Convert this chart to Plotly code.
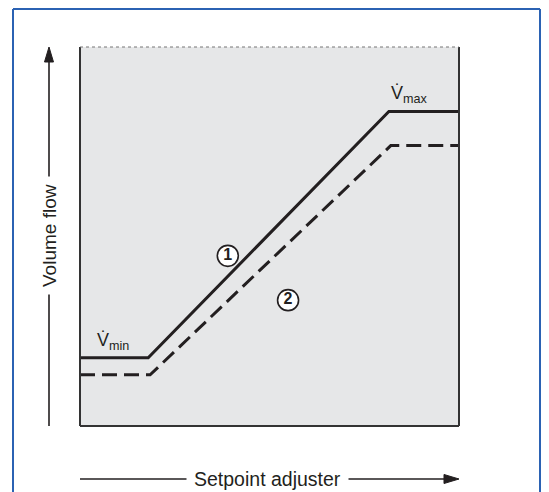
import plotly.graph_objects as go

# Data (setpoint in % of range, volume flow in % of range)
setpoint_1 = [0, 18, 81.5, 100]
flow_1 = [18, 18, 83, 83]
setpoint_2 = [0, 18.5, 82, 100]
flow_2 = [13.5, 13.5, 74, 74]

x_title = "Setpoint adjuster"
y_title = "Volume flow"
vmin_label = "V\u0307<sub>min</sub>"
vmax_label = "V\u0307<sub>max</sub>"
curve_labels = ["1", "2"]
curve_label_x = [39.0, 54.9]
curve_label_y = [44.9, 33.2]

OFF = 8  # page body margin
W, H = 549 - OFF, 492 - OFF
L, T = 80 - OFF, 47 - OFF
R = W - (459 - OFF)
B = H - (426 - OFF)
pw = W - L - R
ph = H - T - B

def px(x):
    return (x - OFF - L) / pw

def py(y):
    return (H - B - (y - OFF)) / ph

FONT = "Liberation Sans, Arial, sans-serif"
INK = "#231f20"

fig = go.Figure()
fig.add_trace(go.Scatter(x=setpoint_1, y=flow_1, mode="lines",
                         line=dict(color=INK, width=3), hoverinfo="skip"))
fig.add_trace(go.Scatter(x=setpoint_2, y=flow_2, mode="lines",
                         line=dict(color=INK, width=3, dash="15px,7px"), hoverinfo="skip"))
fig.add_trace(go.Scatter(x=curve_label_x, y=curve_label_y, mode="markers+text",
                         text=["<b>%s</b>" % t for t in curve_labels],
                         textposition="middle center",
                         textfont=dict(family=FONT, size=16, color=INK),
                         marker=dict(size=21, color="white", line=dict(color=INK, width=1.6)),
                         hoverinfo="skip"))

shapes = []
# plot frame: left, right, bottom solid; top dotted
for (x0, x1, y0, y1) in [(0, 0, 0, 1), (1, 1, 0, 1), (0, 1, 0, 0)]:
    shapes.append(dict(type="line", xref="paper", yref="paper", x0=x0, x1=x1, y0=y0, y1=y1,
                       line=dict(color="#333333", width=2)))
shapes.append(dict(type="line", xref="paper", yref="paper", x0=0, x1=1, y0=1, y1=1,
                   line=dict(color="#777777", width=1.2, dash="dot")))
# outer blue frame
bl, br, bt, bb = px(13), px(540), py(9), py(530)
for (x0, x1, y0, y1) in [(bl, bl, bb, bt), (br, br, bb, bt), (bl, br, bt, bt)]:
    shapes.append(dict(type="line", xref="paper", yref="paper", x0=x0, x1=x1, y0=y0, y1=y1,
                       line=dict(color="#2b62b3", width=2)))

# vertical arrow (line + head)
ax_x, tip_y, base_y, tail_y = 49, 47, 62, 426
shapes.append(dict(type="line", xref="paper", yref="paper", x0=px(ax_x), x1=px(ax_x),
                   y0=py(tail_y), y1=py(base_y), line=dict(color=INK, width=1.6)))
shapes.append(dict(type="path", xref="paper", yref="paper",
                   path="M %f,%f L %f,%f L %f,%f Z" % (px(ax_x), py(tip_y), px(ax_x - 4.5), py(base_y),
                                                      px(ax_x + 4.5), py(base_y)),
                   fillcolor=INK, line=dict(color=INK, width=1)))
# horizontal arrow
ay_y, tip_x, base_x, tail_x = 479, 459, 444, 80
shapes.append(dict(type="line", xref="paper", yref="paper", x0=px(tail_x), x1=px(base_x),
                   y0=py(ay_y), y1=py(ay_y), line=dict(color=INK, width=1.6)))
shapes.append(dict(type="path", xref="paper", yref="paper",
                   path="M %f,%f L %f,%f L %f,%f Z" % (px(tip_x), py(ay_y), px(base_x), py(ay_y - 4.5),
                                                      px(base_x), py(ay_y + 4.5)),
                   fillcolor=INK, line=dict(color=INK, width=1)))

annotations = []
annotations.append(dict(xref="paper", yref="paper", x=px(49), y=py(236), text=y_title,
                        xanchor="center", yanchor="middle",
                        showarrow=False, textangle=-90, bgcolor="white", borderpad=7,
                        font=dict(family=FONT, size=19, color=INK)))
annotations.append(dict(xref="paper", yref="paper", x=px(267), y=py(479), text=x_title,
                        xanchor="center", yanchor="middle",
                        showarrow=False, bgcolor="white", borderpad=7,
                        font=dict(family=FONT, size=19.5, color=INK)))
# Vmin / Vmax labels
annotations.append(dict(x=setpoint_1[0], y=flow_1[0], xref="x", yref="y", text=vmin_label,
                        showarrow=False, xanchor="left", yanchor="bottom", xshift=15, yshift=3,
                        font=dict(family=FONT, size=18, color=INK)))
annotations.append(dict(x=setpoint_1[2], y=flow_1[2], xref="x", yref="y", text=vmax_label,
                        showarrow=False, xanchor="left", yanchor="bottom", xshift=0, yshift=3,
                        font=dict(family=FONT, size=18, color=INK)))

fig.update_layout(
    width=W, height=H,
    margin=dict(l=L, r=R, t=T, b=B),
    paper_bgcolor="white",
    plot_bgcolor="#e6e7e8",
    showlegend=False,
    xaxis=dict(range=[0, 100], visible=False, fixedrange=True),
    yaxis=dict(range=[0, 100], visible=False, fixedrange=True),
    shapes=shapes,
    annotations=annotations,
)

fig.write_html("out.html")
